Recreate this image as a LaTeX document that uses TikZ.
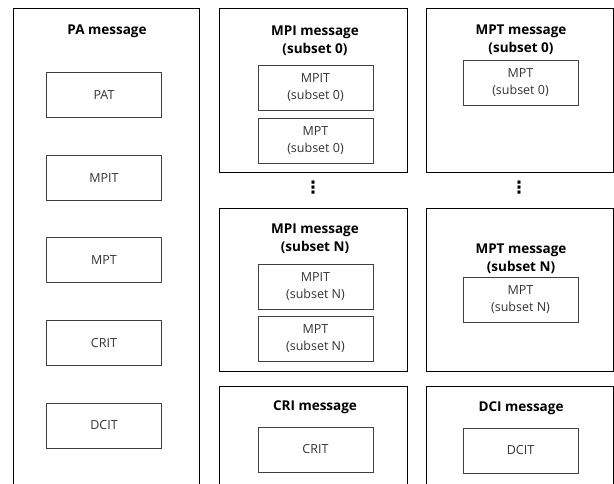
\documentclass[tikz,border=0pt]{standalone}
\usepackage{fontspec}
\setmainfont{Open Sans}
\newfontfamily\symfont{DejaVu Sans}
\usetikzlibrary{positioning}
\tikzset{
  msg/.style={draw=black,line width=1pt,anchor=north west,inner sep=0pt},
  ttl/.style={align=center,inner sep=0pt,font=\bfseries\fontsize{13.5}{18}\selectfont},
  tbl/.style={draw=black!75,line width=0.6pt,minimum width=115pt,minimum height=45pt,inner sep=0pt,align=center,text=black!80,font=\fontsize{12.5}{17}\selectfont},
  dts/.style={inner sep=0pt,font=\symfont\bfseries\fontsize{17}{17}\selectfont},
}
\begin{document}
\begin{tikzpicture}[x=1pt,y=-1pt]
  \useasboundingbox (0,0) rectangle (614,483);
  \clip (0,0) rectangle (614,483);
  % left column: PA message with all tables
  \node[msg,minimum width=186pt,minimum height=520pt] (pa) at (13,8) {};
  \node[ttl] (pat) at (107,31) {PA message};
  \node[tbl] (pat1) at (104,95) {PAT};
  \node[tbl,below=37pt of pat1] (pat2) {MPIT};
  \node[tbl,below=37pt of pat2] (pat3) {MPT};
  \node[tbl,below=37pt of pat3] (pat4) {CRIT};
  \node[tbl,below=37pt of pat4] (pat5) {DCIT};

  % middle column: MPI messages and CRI message
  \node[msg,minimum width=188pt,minimum height=164pt] (mpi0) at (219,8) {};
  \node[ttl] (mpi0t) at (315,41) {MPI message\\(subset 0)};
  \node[tbl] (mpi0a) at (315.5,88) {MPIT\\(subset 0)};
  \node[tbl,below=7pt of mpi0a] (mpi0b) {MPT\\(subset 0)};
  \node[dts] (dotsl) at (313,188) {⋮};
  \node[msg,minimum width=188pt,minimum height=163pt] (mpin) at (219,208) {};
  \node[ttl] (mpint) at (315,238.5) {MPI message\\(subset N)};
  \node[tbl] (mpina) at (315.5,287) {MPIT\\(subset N)};
  \node[tbl,below=6pt of mpina] (mpinb) {MPT\\(subset N)};
  \node[msg,minimum width=188pt,minimum height=150pt] (cri) at (219,386) {};
  \node[ttl] (crit) at (315,407) {CRI message};
  \node[tbl] (cri1) at (315.5,449.5) {CRIT};

  % right column: MPT messages and DCI message
  \node[msg,minimum width=187pt,minimum height=164pt] (mpt0) at (426,8) {};
  \node[ttl] (mpt0t) at (521,40) {MPT message\\(subset 0)};
  \node[tbl] (mpt0a) at (520.5,82.5) {MPT\\(subset 0)};
  \node[dts] (dotsr) at (519,188) {⋮};
  \node[msg,minimum width=187pt,minimum height=163pt] (mptn) at (426,208) {};
  \node[ttl] (mptnt) at (521,259) {MPT message\\(subset N)};
  \node[tbl] (mptna) at (520.5,299.5) {MPT\\(subset N)};
  \node[msg,minimum width=187pt,minimum height=150pt] (dci) at (426,386) {};
  \node[ttl] (dcit) at (521,408) {DCI message};
  \node[tbl] (dci1) at (520.5,450.5) {DCIT};
\end{tikzpicture}
\end{document}
